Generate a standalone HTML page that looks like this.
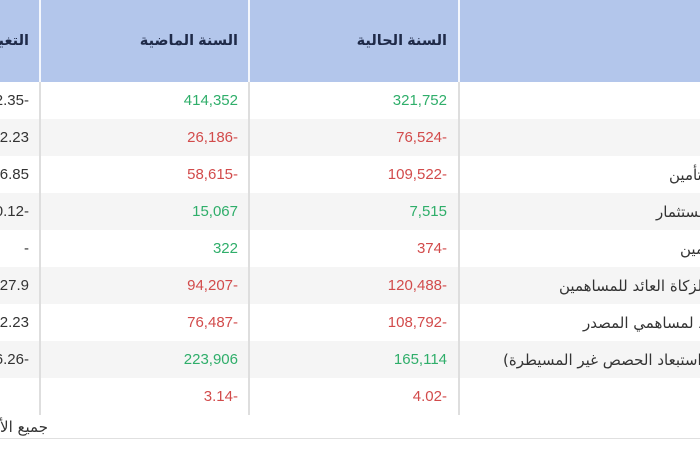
<!DOCTYPE html>
<html>
<head>
<meta charset="utf-8">
<style>
  html,body{margin:0;padding:0;}
  body{width:700px;height:450px;overflow:hidden;position:relative;background:#fff;
       font-family:"Liberation Sans","DejaVu Sans",sans-serif;}
  .clip{position:absolute;left:0;top:0;width:700px;height:450px;overflow:hidden;}
  .hdr{position:absolute;left:0;top:0;width:700px;height:82px;background:#b3c6eb;}
  .vw{position:absolute;top:0;height:82px;width:2px;background:#f4f7fd;}
  .row{position:absolute;left:0;width:700px;height:37px;}
  .g{background:#f5f5f5;}
  .vg{position:absolute;top:82px;height:333px;width:2px;background:#dedede;}
  .h{position:absolute;top:33px;font-size:14.5px;font-weight:bold;color:#1f2a48;direction:rtl;white-space:nowrap;}
  .n{position:absolute;font-size:15px;white-space:nowrap;text-align:right;line-height:18px;}
  .gr{color:#2fae6a;}
  .rd{color:#d24b4b;}
  .dk{color:#333;}
  .lb{position:absolute;font-size:15px;color:#333;direction:rtl;white-space:nowrap;line-height:18px;
      font-family:"DejaVu Sans",sans-serif;}
</style>
</head>
<body>
<div class="clip">
  <div class="hdr"></div>
  <div class="vw" style="left:39px"></div>
  <div class="vw" style="left:248px"></div>
  <div class="vw" style="left:458px"></div>

  <div class="row" style="top:82px"></div>
  <div class="row g" style="top:119px"></div>
  <div class="row" style="top:156px"></div>
  <div class="row g" style="top:193px"></div>
  <div class="row" style="top:230px"></div>
  <div class="row g" style="top:267px"></div>
  <div class="row" style="top:304px"></div>
  <div class="row g" style="top:341px"></div>
  <div class="row" style="top:378px"></div>

  <div class="vg" style="left:39px"></div>
  <div class="vg" style="left:248px"></div>
  <div class="vg" style="left:458px"></div>

  <div class="h" style="right:253px">السنة الحالية</div>
  <div class="h" style="right:462px">السنة الماضية</div>
  <div class="h" style="right:671px">التغير</div>

  <div class="n gr" style="right:253px;top:92px">321,752</div>
  <div class="n rd" style="right:253px;top:129px">76,524-</div>
  <div class="n rd" style="right:253px;top:166px">109,522-</div>
  <div class="n gr" style="right:253px;top:203px">7,515</div>
  <div class="n rd" style="right:253px;top:240px">374-</div>
  <div class="n rd" style="right:253px;top:277px">120,488-</div>
  <div class="n rd" style="right:253px;top:314px">108,792-</div>
  <div class="n gr" style="right:253px;top:351px">165,114</div>
  <div class="n rd" style="right:253px;top:388px">4.02-</div>

  <div class="n gr" style="right:462px;top:92px">414,352</div>
  <div class="n rd" style="right:462px;top:129px">26,186-</div>
  <div class="n rd" style="right:462px;top:166px">58,615-</div>
  <div class="n gr" style="right:462px;top:203px">15,067</div>
  <div class="n gr" style="right:462px;top:240px">322</div>
  <div class="n rd" style="right:462px;top:277px">94,207-</div>
  <div class="n rd" style="right:462px;top:314px">76,487-</div>
  <div class="n gr" style="right:462px;top:351px">223,906</div>
  <div class="n rd" style="right:462px;top:388px">3.14-</div>

  <div class="n dk" style="right:671px;top:92px">22.35-</div>
  <div class="n dk" style="right:671px;top:129px">192.23</div>
  <div class="n dk" style="right:671px;top:166px">86.85</div>
  <div class="n dk" style="right:671px;top:203px">50.12-</div>
  <div class="n dk" style="right:671px;top:240px">-</div>
  <div class="n dk" style="right:671px;top:277px">27.9</div>
  <div class="n dk" style="right:671px;top:314px">42.23</div>
  <div class="n dk" style="right:671px;top:351px">26.26-</div>

  <div class="lb" style="left:669px;top:166px">تأمين</div>
  <div class="lb" style="left:656px;top:203px">ـستثمار</div>
  <div class="lb" style="left:680px;top:240px">ـمين</div>
  <div class="lb" style="left:559px;top:277px">لزكاة العائد للمساهمين</div>
  <div class="lb" style="left:583px;top:314px">العائد لمساهمي المصدر</div>
  <div class="lb" style="left:503px;top:351px">استبعاد الحصص غير المسيطرة)</div>

  <div class="lb" style="right:652px;top:418px">جميع الأرقام بالمليون</div>
  <div style="position:absolute;left:0;top:438px;width:700px;height:1px;background:#e0e0e0"></div>
</div>
</body>
</html>
